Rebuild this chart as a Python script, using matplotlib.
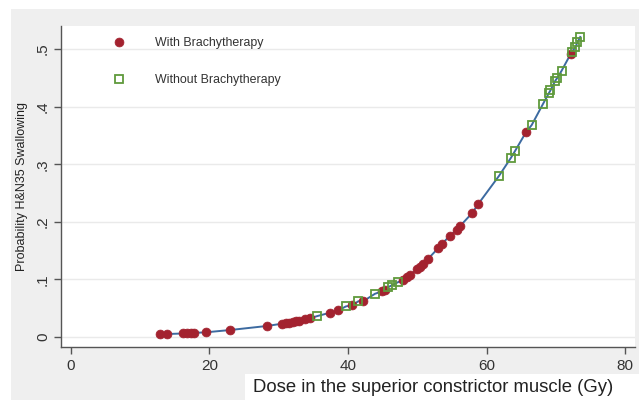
import matplotlib
matplotlib.use("Agg")
import matplotlib.pyplot as plt
from matplotlib.patches import Rectangle
import numpy as np

plt.rcParams['font.family'] = ['Liberation Sans', 'DejaVu Sans']

# Predicted probability vs. dose, patients treated with brachytherapy
with_dose = [12.9, 13.9, 16.2, 16.8, 17.3, 17.8, 19.5, 23.0, 28.3, 30.5, 31.0,
             31.5, 32.0, 32.5, 33.0, 33.8, 34.5, 37.4, 38.6, 40.6, 42.2, 44.9,
             45.4, 48.0, 48.5, 49.0, 50.0, 50.4, 50.8, 51.5, 53.0, 53.6, 54.7,
             55.7, 56.2, 57.9, 58.8, 65.7, 72.1]
with_prob = [0.005, 0.005, 0.006, 0.006, 0.007, 0.007, 0.008, 0.012, 0.019,
             0.023, 0.024, 0.025, 0.026, 0.027, 0.028, 0.031, 0.032, 0.042,
             0.046, 0.055, 0.062, 0.079, 0.082, 0.099, 0.104, 0.108, 0.118,
             0.122, 0.127, 0.135, 0.154, 0.162, 0.176, 0.186, 0.193, 0.215,
             0.231, 0.356, 0.491]

# Patients treated without brachytherapy
without_dose = [35.5, 39.7, 41.5, 43.9, 45.7, 46.4, 47.2, 61.8, 63.5, 64.1,
                66.5, 68.1, 69.0, 69.2, 69.9, 70.2, 70.8, 72.3, 72.8, 73.1, 73.5]
without_prob = [0.036, 0.053, 0.062, 0.075, 0.086, 0.090, 0.095, 0.280, 0.311,
                0.323, 0.368, 0.404, 0.424, 0.428, 0.445, 0.450, 0.462, 0.495,
                0.503, 0.512, 0.521]

x_ticks = [0, 20, 40, 60, 80]
y_ticks = [0, 0.1, 0.2, 0.3, 0.4, 0.5]
y_tick_labels = ["0", ".1", ".2", ".3", ".4", ".5"]

RED = "#a3222f"
GREEN = "#5f9a3c"
LINE = "#3c6aa0"
BG = "#efefef"

fig = plt.figure(figsize=(6.39, 4.0), dpi=100, facecolor="white")

# gray graph region and white caption box for the x title
fig.patches.append(Rectangle((11 / 639, 0), 1 - 11 / 639, 1 - 9 / 400,
                             transform=fig.transFigure, facecolor=BG,
                             edgecolor="none", zorder=-10))
fig.patches.append(Rectangle((245 / 639, 0), 1 - 245 / 639, 26 / 400,
                             transform=fig.transFigure, facecolor="white",
                             edgecolor="none", zorder=-5))

ax = fig.add_axes([61 / 639, 53 / 400, 574 / 639, 321 / 400])
ax.set_zorder(2)
ax.set_facecolor("white")

# fitted curve through all predicted values, ordered by dose
all_dose = np.array(with_dose + without_dose)
all_prob = np.array(with_prob + without_prob)
order = np.argsort(all_dose)
ax.plot(all_dose[order], all_prob[order], color=LINE, lw=1.4, zorder=2)

ax.plot(with_dose, with_prob, linestyle="none", marker="o", ms=6.4,
        mfc=RED, mec=RED, mew=0.5, label="With Brachytherapy", zorder=3)
ax.plot(without_dose, without_prob, linestyle="none", marker="s", ms=5.9,
        mfc="none", mec=GREEN, mew=1.3, label="Without Brachytherapy", zorder=4)

ax.set_xlim(-1.4, 81.4)
ax.set_ylim(-0.0175, 0.54)
ax.set_xticks(x_ticks)
ax.set_yticks(y_ticks)
ax.set_yticklabels(y_tick_labels, rotation=90, va="center")

ax.grid(axis="y", color="#eaeaea", lw=1.0)
ax.set_axisbelow(True)
for s in ["top", "right"]:
    ax.spines[s].set_visible(False)
for s in ["left", "bottom"]:
    ax.spines[s].set_color("#555555")
    ax.spines[s].set_linewidth(1.0)
ax.tick_params(axis="both", direction="out", length=5, width=1.0,
               color="#555555", labelsize=11, labelcolor="#333333")
ax.tick_params(axis="x", pad=4)
ax.tick_params(axis="y", pad=3)

ax.set_ylabel("Probability H&N35 Swallowing", fontsize=9, color="#222222",
              labelpad=6)
fig.text(253 / 639, 13 / 400, "Dose in the superior constrictor muscle (Gy)",
         fontsize=13.3, color="#222222", ha="left", va="center", zorder=5)

leg = ax.legend(loc="upper left", bbox_to_anchor=(112 / 639, 1 - 37 / 400),
                bbox_transform=fig.transFigure, frameon=False, fontsize=8.9,
                handlelength=1.2, handletextpad=2.3, labelspacing=2.05,
                borderpad=0, borderaxespad=0)
for t in leg.get_texts():
    t.set_color("#333333")

fig.savefig("out.png", dpi=100, facecolor=fig.get_facecolor())
